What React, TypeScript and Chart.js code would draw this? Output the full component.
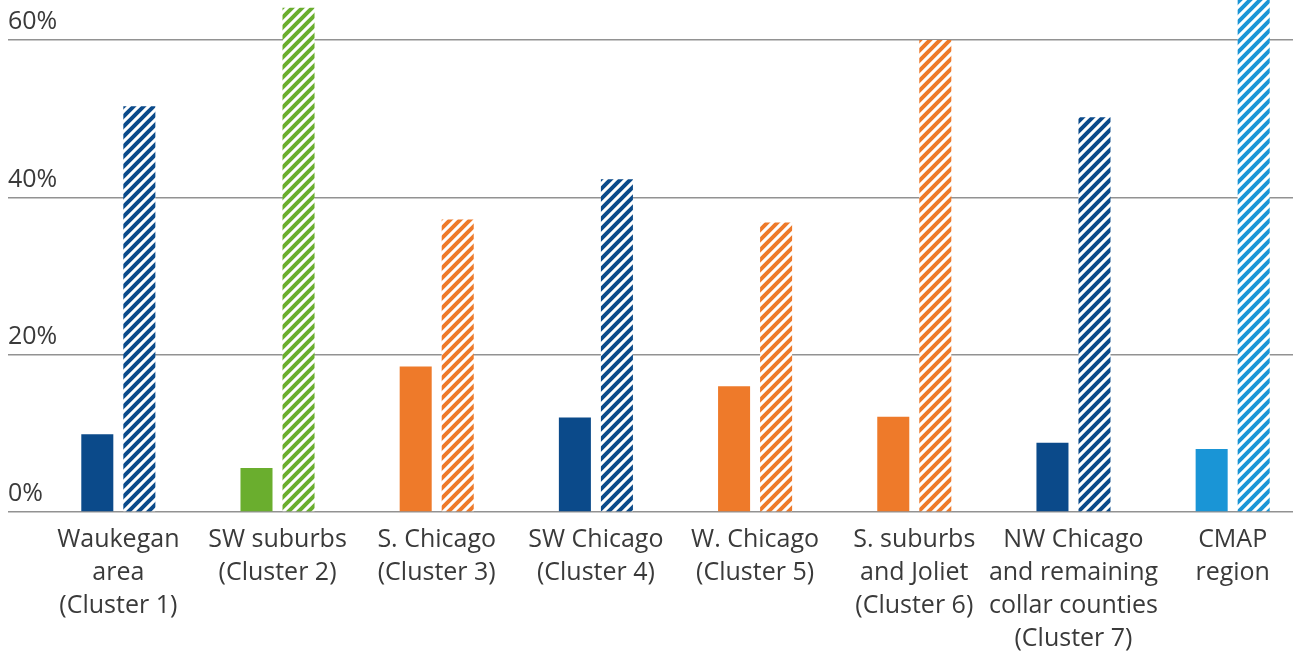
import React, { useEffect, useRef } from "react";
import { Chart, registerables } from "chart.js";

Chart.register(...registerables);

const categories: string[][] = [
  ["Waukegan", "area", "(Cluster 1)"],
  ["SW suburbs", "(Cluster 2)"],
  ["S. Chicago", "(Cluster 3)"],
  ["SW Chicago", "(Cluster 4)"],
  ["W. Chicago", "(Cluster 5)"],
  ["S. suburbs", "and Joliet", "(Cluster 6)"],
  ["NW Chicago", "and remaining", "collar counties", "(Cluster 7)"],
  ["CMAP", "region"],
];

const solidValues = [9.9, 5.6, 18.5, 12.0, 16.0, 12.1, 8.8, 8.0];
const hatchedValues = [51.6, 64.1, 37.2, 42.3, 36.8, 60.0, 50.2, 67.0];
const barColors = ["#0b4a8a", "#6aae2e", "#ee7a2a", "#0b4a8a", "#ee7a2a", "#ee7a2a", "#0b4a8a", "#1a95d6"];
const yTicks = [0, 20, 40, 60];

function makeStripe(color: string): CanvasPattern | string {
  const size = 10;
  const c = document.createElement("canvas");
  c.width = size;
  c.height = size;
  const ctx = c.getContext("2d");
  if (!ctx) return color;
  ctx.fillStyle = "#ffffff";
  ctx.fillRect(0, 0, size, size);
  ctx.strokeStyle = color;
  ctx.lineWidth = 4;
  ctx.lineCap = "square";
  ctx.beginPath();
  ctx.moveTo(-2, size + 2);
  ctx.lineTo(size + 2, -2);
  ctx.moveTo(-3, 3);
  ctx.lineTo(3, -3);
  ctx.moveTo(size - 3, size + 3);
  ctx.lineTo(size + 3, size - 3);
  ctx.stroke();
  const p = ctx.createPattern(c, "repeat");
  return p || color;
}

export default function App() {
  const ref = useRef<HTMLCanvasElement>(null);
  useEffect(() => {
    document.body.style.margin = "0";
    const canvas = ref.current;
    if (!canvas) return;
    const font = "'Open Sans', 'DejaVu Sans', sans-serif";
    const chart = new Chart(canvas, {
      type: "bar",
      data: {
        datasets: [
          {
            label: "solid",
            data: solidValues.map((v, i) => ({ x: i, y: v })),
            backgroundColor: barColors,
            borderWidth: 0,
            categoryPercentage: 0.528,
            barPercentage: 0.762,
          },
          {
            label: "hatched",
            data: hatchedValues.map((v, i) => ({ x: i, y: v })),
            backgroundColor: barColors.map((c) => makeStripe(c)) as any,
            borderWidth: 0,
            categoryPercentage: 0.528,
            barPercentage: 0.762,
          },
        ],
      },
      options: {
        animation: false,
        responsive: false,
        maintainAspectRatio: false,
        layout: { padding: { left: 8, right: 4, top: 0, bottom: -14 } },
        plugins: { legend: { display: false }, tooltip: { enabled: false } },
        scales: {
          x: {
            type: "linear",
            min: -0.693,
            max: 7.379,
            offset: false,
            grid: { display: false, drawTicks: false },
            border: { display: false },
            afterFit: (scale: any) => {
              scale.paddingLeft = 0;
              scale.paddingRight = 0;
            },
            ticks: {
              stepSize: 1,
              includeBounds: false,
              autoSkip: false,
              maxRotation: 0,
              minRotation: 0,
              padding: 11,
              color: "#3a3a3a",
              font: { family: font, size: 25, lineHeight: 1.32 },
              callback: (v: any) => {
                const n = Number(v);
                return Number.isInteger(n) && n >= 0 && n < categories.length ? categories[n] : "";
              },
            },
          },
          y: {
            min: 0,
            max: 65.1,
            grid: { color: "#929292", lineWidth: 1.5, drawTicks: false },
            border: { display: false },
            afterBuildTicks: (scale: any) => {
              scale.ticks = yTicks.map((v) => ({ value: v }));
            },
            afterFit: (scale: any) => {
              scale.paddingTop = 0;
              scale.paddingBottom = 0;
            },
            ticks: {
              mirror: true,
              padding: 0,
              labelOffset: -18,
              color: "#3a3a3a",
              font: { family: font, size: 25 },
              callback: (v: any) => `${v}%`,
            },
          },
        },
      },
    });
    return () => chart.destroy();
  }, []);
  return <canvas ref={ref} width={1297} height={652} style={{ display: "block" }} />;
}
